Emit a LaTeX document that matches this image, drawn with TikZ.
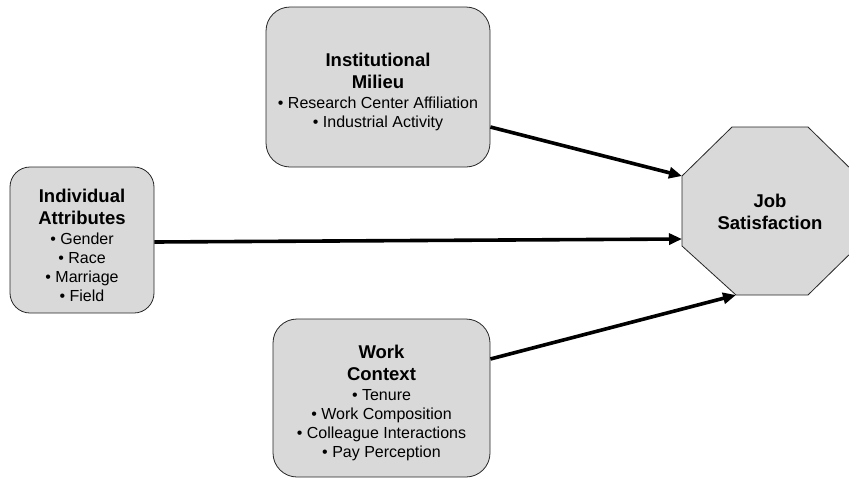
\documentclass[tikz,border=0pt]{standalone}
\usepackage{fontspec}
\setmainfont{Liberation Sans}
\usetikzlibrary{arrows.meta}
\definecolor{boxfill}{HTML}{D9D9D9}
\tikzset{
  factor/.style={draw=black!85, line width=0.8pt, fill=boxfill, rounded corners=24pt, align=center, inner sep=0pt, font=\fontsize{16}{19}\selectfont},
  link/.style={line width=3.6pt, -{Triangle[length=13pt,width=11pt]}}
}
\newcommand{\ttl}[1]{{\fontsize{18.5}{22}\selectfont\bfseries #1}}
\newcommand{\ttlfirst}[1]{{\fontsize{18.5}{22}\selectfont\bfseries\rule{0pt}{23.5pt}#1}}
\newcommand{\bl}[1]{\textbullet{} #1}
\begin{document}
\begin{tikzpicture}[x=1pt,y=-1pt]
\useasboundingbox (0,0) rectangle (849,477);
% boxes
\node[factor, minimum width=224pt, minimum height=160pt] (inst) at (378,87)
  {\ttlfirst{Institutional}\\[3pt]\ttl{Milieu}\\[1pt]\bl{Research Center Affiliation}\\\bl{Industrial Activity}};
\node[factor, minimum width=144pt, minimum height=146pt, rounded corners=20pt] (ind) at (82,240)
  {\ttlfirst{Individual}\\[3pt]\ttl{Attributes}\\[1pt]\bl{Gender}\\\bl{Race}\\\bl{Marriage}\\\bl{Field}};
\node[factor, minimum width=217pt, minimum height=158pt] (work) at (381.5,398)
  {\ttlfirst{Work}\\[3pt]\ttl{Context}\\[1pt]\bl{Tenure}\\\bl{Work Composition}\\\bl{Colleague Interactions}\\\bl{Pay Perception}};
% octagon
\coordinate (o1) at (732,127);
\coordinate (o2) at (808,127);
\coordinate (o3) at (858,176);
\coordinate (o4) at (858,246);
\coordinate (o5) at (808,295);
\coordinate (o6) at (736,295);
\coordinate (o7) at (682,246);
\coordinate (o8) at (682,176);
\draw[draw=black!85, line width=0.8pt, fill=boxfill] (o1) -- (o2) -- (o3) -- (o4) -- (o5) -- (o6) -- (o7) -- (o8) -- cycle;
\node[align=center, font=\fontsize{18.5}{22}\selectfont\bfseries] (js) at (770,212) {Job\\Satisfaction};
\coordinate (jsmid) at (682,239);
% connectors
\draw[link] ([yshift=-40pt]inst.east) -- (o8);
\draw[link] ([yshift=-2pt]ind.east) -- (jsmid);
\draw[link] ([yshift=39pt]work.east) -- (o6);
\end{tikzpicture}
\end{document}
